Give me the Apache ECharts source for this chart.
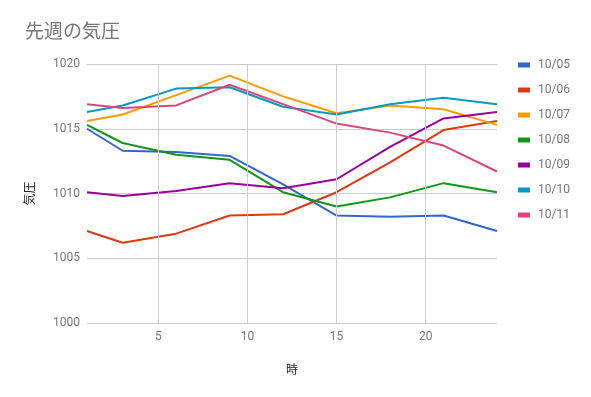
<!DOCTYPE html>
<html>
<head>
<meta charset="utf-8">
<script src="https://cdn.jsdelivr.net/npm/echarts@6/dist/echarts.min.js"></script>
<style>
  html, body { margin: 0; padding: 0; background: #fff; }
  #chart { width: 591px; height: 397px; }
</style>
</head>
<body>
<div id="chart"></div>
<script>
// 時刻
var hours = [1, 3, 6, 9, 12, 15, 18, 21, 24]
var xTicks = [5, 10, 15, 20]

// 日ごとの気圧 (hPa)
var d1005 = [1015.0, 1013.3, 1013.2, 1012.9, 1010.7, 1008.3, 1008.2, 1008.3, 1007.1]
var d1006 = [1007.1, 1006.2, 1006.9, 1008.3, 1008.4, 1010.1, 1012.4, 1014.9, 1015.6]
var d1007 = [1015.6, 1016.1, 1017.6, 1019.1, 1017.5, 1016.2, 1016.8, 1016.5, 1015.3]
var d1008 = [1015.3, 1013.9, 1013.0, 1012.6, 1010.1, 1009.0, 1009.7, 1010.8, 1010.1]
var d1009 = [1010.1, 1009.8, 1010.2, 1010.8, 1010.4, 1011.1, 1013.6, 1015.8, 1016.3]
var d1010 = [1016.3, 1016.8, 1018.1, 1018.2, 1016.7, 1016.1, 1016.9, 1017.4, 1016.9]
var d1011 = [1016.9, 1016.6, 1016.8, 1018.4, 1016.9, 1015.4, 1014.7, 1013.7, 1011.7]

var names = ['10/05', '10/06', '10/07', '10/08', '10/09', '10/10', '10/11']
var values = [d1005, d1006, d1007, d1008, d1009, d1010, d1011]
var colors = ['#3366cc', '#dc3912', '#ff9900', '#109618', '#990099', '#0099c6', '#dd4477']

var chart = echarts.init(document.getElementById('chart'))

var series = names.map(function (name, i) {
  return {
    name: name,
    type: 'line',
    z: 3,
    showSymbol: false,
    symbol: 'none',
    animation: false,
    lineStyle: { width: 2, color: colors[i] },
    itemStyle: { color: colors[i] },
    data: hours.map(function (h, j) { return [h, values[i][j]] })
  }
})

// x軸の縦グリッドと目盛りラベル (markLine で描く)
series.push({
  name: 'xgrid',
  type: 'line',
  z: 1,
  silent: true,
  animation: false,
  showSymbol: false,
  symbol: 'none',
  lineStyle: { opacity: 0 },
  data: hours.map(function (h, j) { return [h, d1005[j]] }),
  markLine: {
    silent: true,
    animation: false,
    symbol: ['none', 'none'],
    lineStyle: { color: '#cccccc', width: 1, type: 'solid' },
    label: { position: 'start', formatter: '{c}', color: '#757575', fontSize: 12, distance: 8 },
    emphasis: { disabled: true },
    data: xTicks.map(function (v) { return { xAxis: v } })
  }
})

chart.setOption({
  textStyle: { fontFamily: 'Roboto, "Noto Sans CJK JP", sans-serif' },
  title: {
    text: '先週の気圧',
    left: 20,
    top: 16,
    textStyle: { fontSize: 19, fontWeight: 'normal', color: '#757575', fontFamily: '"Noto Sans CJK JP", sans-serif' }
  },
  legend: {
    orient: 'vertical',
    left: 518,
    top: 59,
    padding: 0,
    itemWidth: 12,
    itemHeight: 5,
    itemGap: 13,
    icon: 'rect',
    data: names,
    textStyle: { fontSize: 12, color: '#757575', padding: [0, 0, 0, 3] }
  },
  grid: { left: 87, right: 94, top: 64, bottom: 74 },
  xAxis: {
    type: 'value',
    min: 1,
    max: 24,
    name: '時',
    nameLocation: 'middle',
    nameGap: 40,
    nameTextStyle: { fontSize: 12, color: '#222', fontFamily: '"Noto Sans CJK JP", sans-serif' },
    axisLine: { show: false },
    axisTick: { show: false },
    axisLabel: { show: false },
    splitLine: { show: false }
  },
  yAxis: {
    type: 'value',
    min: 1000,
    max: 1020,
    interval: 5,
    name: '気圧',
    nameLocation: 'middle',
    nameGap: 52,
    nameRotate: 90,
    nameTextStyle: { fontSize: 12, color: '#222', fontFamily: '"Noto Sans CJK JP", sans-serif' },
    axisLine: { show: false },
    axisTick: { show: false },
    axisLabel: { color: '#757575', fontSize: 12, margin: 7, formatter: function (v) { return String(v) } },
    splitLine: { lineStyle: { color: '#cccccc', width: 1 } }
  },
  series: series
})
</script>
</body>
</html>
